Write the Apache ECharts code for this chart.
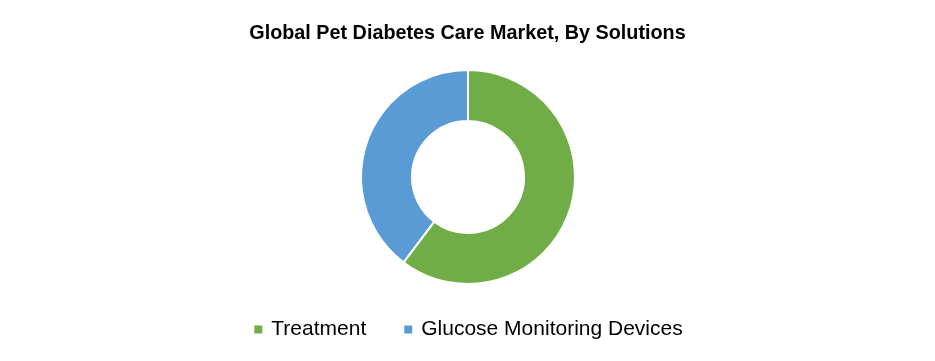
<!DOCTYPE html>
<html>
<head>
<meta charset="utf-8">
<script src="https://cdn.jsdelivr.net/npm/echarts@6/dist/echarts.min.js"></script>
<style>
  html, body { margin: 0; padding: 0; background: #fff; }
  #main { width: 935px; height: 361px; }
</style>
</head>
<body>
<div id="main"></div>
<script>
const titleText = 'Global Pet Diabetes Care Market, By Solutions';
const segments = ['Treatment', 'Glucose Monitoring Devices'];
const shares = [60.3, 39.7];
const colors = ['#70AD47', '#5B9BD5'];

const chart = echarts.init(document.getElementById('main'));

chart.setOption({
    animation: false,
    color: colors,
    title: {
        text: titleText,
        left: 'center',
        top: 19,
        textStyle: {
            fontFamily: 'Liberation Sans',
            fontWeight: 'bold',
            fontSize: 19.8,
            color: '#000'
        }
    },
    legend: {
        data: segments,
        bottom: 16,
        left: 'center',
        icon: 'rect',
        itemWidth: 10,
        itemHeight: 10,
        itemGap: 36,
        textStyle: {
            fontFamily: 'Liberation Sans',
            fontSize: 21,
            color: '#000',
            padding: [0, 0, 0, 3]
        }
    },
    series: [{
        type: 'pie',
        center: [468, 177],
        radius: [56, 107],
        startAngle: 90,
        clockwise: true,
        label: { show: false },
        labelLine: { show: false },
        itemStyle: { borderColor: '#fff', borderWidth: 2 },
        data: segments.map((name, i) => ({ name: name, value: shares[i] }))
    }]
});
</script>
</body>
</html>
